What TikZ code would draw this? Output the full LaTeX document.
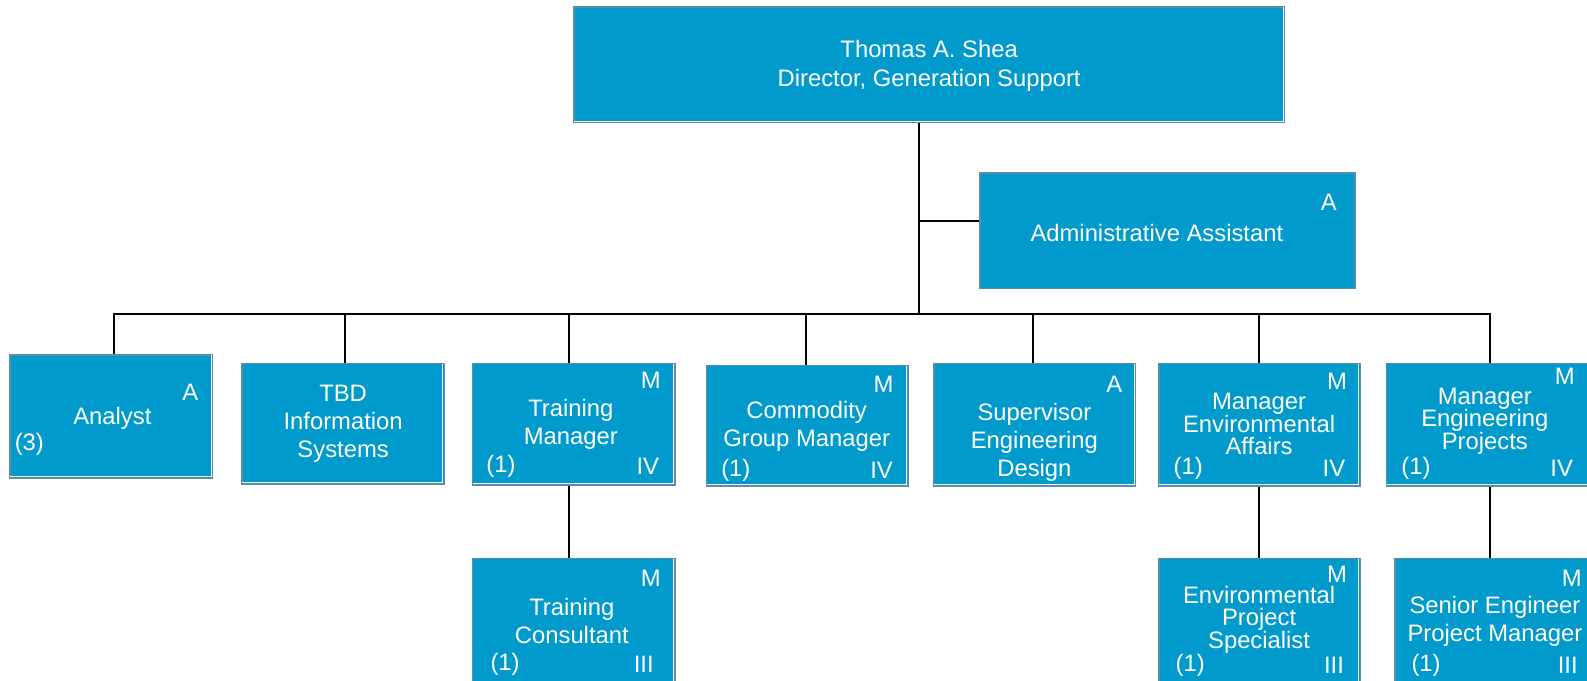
\documentclass[tikz,border=0pt]{standalone}
\usepackage{fontspec}
\setmainfont{Liberation Sans}
\usetikzlibrary{fit}
\definecolor{boxfill}{HTML}{009ACC}
\definecolor{boxedge}{HTML}{5A8DA6}
\begin{document}
\begin{tikzpicture}[x=1.012pt,y=-1.012pt,
  box/.style={draw=boxedge, line width=1.6pt, fill=boxfill, rectangle, inner sep=0pt},
  lbl/.style={text=white, font=\fontsize{23.8}{28}\selectfont, inner sep=0pt, align=center},
  tight/.style={font=\fontsize{23.8}{22.5}\selectfont},
  conn/.style={draw=black, line width=2pt}]
\useasboundingbox (0,0) rectangle (1568,672);
\clip (0,0) rectangle (1568,672);
\fill[white] (0,0) rectangle (1568,672);

% connectors
\coordinate (j0) at (908,310);
\coordinate (ja) at (908,218);
\coordinate (barL) at (113,310);
\coordinate (barR) at (1472,310);
\coordinate (dan) at (113,310);
\coordinate (dtb) at (341,310);
\coordinate (dtm) at (562,310);
\coordinate (dco) at (796,310);
\coordinate (dsu) at (1021,310);
\coordinate (den) at (1244,310);
\coordinate (deg) at (1472,310);

% boxes
\node[box, fit={(567,7)(1269,121)}] (top) {};
\node[box, fit={(968,171)(1339,285)}] (admin) {};
\node[box, fit={(10,351)(210,472)}] (an) {};
\node[box, fit={(239,359)(439,478)}] (tb) {};
\node[box, fit={(467,359)(667,479)}] (tm) {};
\node[box, fit={(698,361)(897,480)}] (co) {};
\node[box, fit={(923,359)(1122,480)}] (su) {};
\node[box, fit={(1145,359)(1344,480)}] (en) {};
\node[box, fit={(1370,359)(1590,480)}] (eg) {};
\node[box, fit={(467,552)(667,690)}] (tc) {};
\node[box, fit={(1145,552)(1344,690)}] (es) {};
\node[box, fit={(1378,552)(1590,690)}] (se) {};

% white inner edges
\foreach \b in {top,an,tb,tm,co,su,en,eg}{
  \draw[white, line width=0.9pt] ([xshift=-2.2pt,yshift=-1pt]\b.north east) -- ([xshift=-2.2pt,yshift=2.2pt]\b.south east) -- ([xshift=1pt,yshift=2.2pt]\b.south west);
}
\foreach \b in {tc,es}{
  \draw[white, line width=0.9pt] ([xshift=-2.2pt,yshift=-1pt]\b.north east) -- ([xshift=-2.2pt]\b.south east);
}

\draw[conn] (top.south -| j0) -- (j0);
\draw[conn] (ja) -- (ja -| admin.west);
\draw[conn, line cap=rect] (barL) -- (barR);
\draw[conn] (dan) -- (dan |- an.north);
\draw[conn] (dtb) -- (dtb |- tb.north);
\draw[conn] (dtm) -- (dtm |- tm.north);
\draw[conn] (dco) -- (dco |- co.north);
\draw[conn] (dsu) -- (dsu |- su.north);
\draw[conn] (den) -- (den |- en.north);
\draw[conn] (deg) -- (deg |- eg.north);
\draw[conn] (tm.south -| dtm) -- (tc.north -| dtm);
\draw[conn] (en.south -| den) -- (es.north -| den);
\draw[conn] (eg.south -| deg) -- (se.north -| deg);

% texts
\node[lbl, font=\fontsize{23.8}{29}\selectfont] (top-t) at (918,65) {Thomas A. Shea\\Director, Generation Support};
\node[lbl] (admin-t) at (1143,230) {Administrative Assistant};
\node[lbl] (admin-g) at (1313,200) {A};

\node[lbl] (an-t) at (111,413) {Analyst};
\node[lbl] (an-g) at (188,388) {A};
\node[lbl] (an-n) at (29,439) {(3)};

\node[lbl] (tb-t) at (339,419) {TBD\\Information\\Systems};

\node[lbl] (tm-t) at (564,419) {Training\\Manager};
\node[lbl] (tm-g) at (643,376) {M};
\node[lbl] (tm-n) at (495,461) {(1)};
\node[lbl] (tm-l) at (640,461) {IV};

\node[lbl] (co-t) at (797,421) {Commodity\\Group Manager};
\node[lbl] (co-g) at (873,380) {M};
\node[lbl] (co-n) at (727,465) {(1)};
\node[lbl] (co-l) at (871,465) {IV};

\node[lbl] (su-t) at (1022,437) {Supervisor\\Engineering\\Design};
\node[lbl] (su-g) at (1101,380) {A};

\node[lbl, tight] (en-t) at (1244,419) {Manager\\Environmental\\Affairs};
\node[lbl] (en-g) at (1321,377) {M};
\node[lbl] (en-n) at (1174,463) {(1)};
\node[lbl] (en-l) at (1318,463) {IV};

\node[lbl, tight] (eg-t) at (1467,416) {Manager\\Engineering\\Projects};
\node[lbl] (eg-g) at (1546,372) {M};
\node[lbl] (eg-n) at (1399,463) {(1)};
\node[lbl] (eg-l) at (1543,463) {IV};

\node[lbl] (tc-t) at (565,614) {Training\\Consultant};
\node[lbl] (tc-g) at (643,571) {M};
\node[lbl] (tc-n) at (499,656) {(1)};
\node[lbl] (tc-l) at (636,656) {III};

\node[lbl, tight] (es-t) at (1244,612) {Environmental\\Project\\Specialist};
\node[lbl] (es-g) at (1321,567) {M};
\node[lbl] (es-n) at (1176,657) {(1)};
\node[lbl] (es-l) at (1318,657) {III};

\node[lbl] (se-t) at (1477,614) {Senior Engineer\\Project Manager};
\node[lbl] (se-g) at (1553,571) {M};
\node[lbl] (se-n) at (1409,657) {(1)};
\node[lbl] (se-l) at (1549,657) {III};
\end{tikzpicture}
\end{document}
